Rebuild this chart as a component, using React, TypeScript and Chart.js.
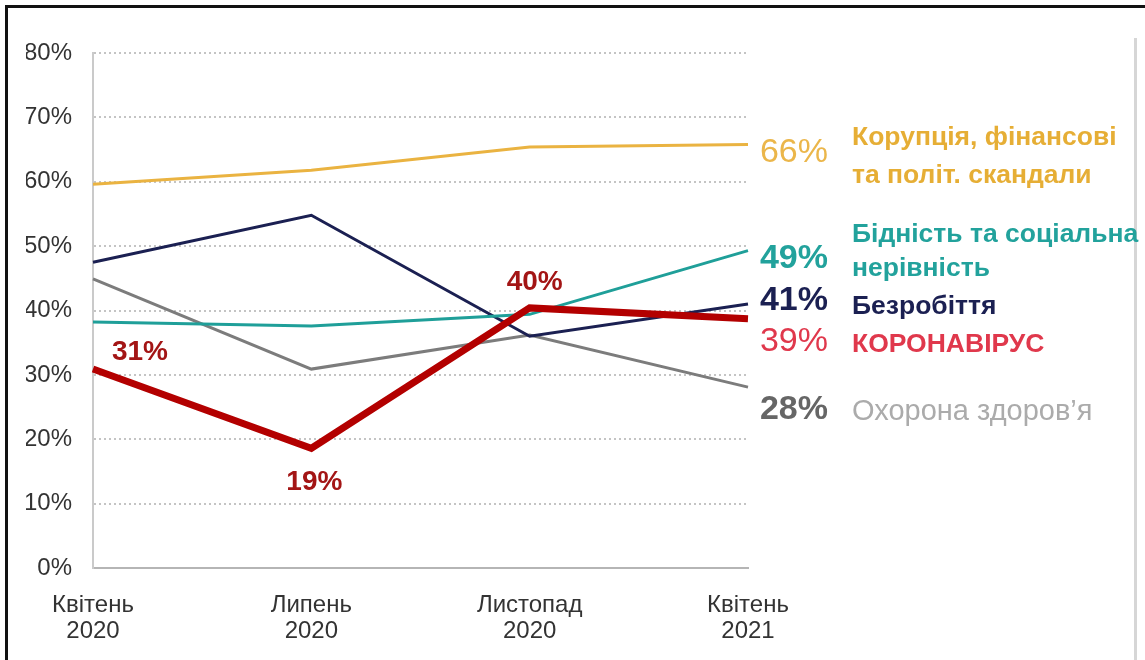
import React, { useEffect, useRef } from "react";
import { Chart, registerables } from "chart.js";

Chart.register(...registerables);

// ---- data ----
const categories: string[][] = [
  ["Квітень", "2020"],
  ["Липень", "2020"],
  ["Листопад", "2020"],
  ["Квітень", "2021"],
];
const coronavirus = [30.9, 18.6, 40.4, 38.7];
const corruption = [59.6, 61.8, 65.4, 65.8];
const poverty = [38.2, 37.6, 39.4, 49.3];
const unemployment = [47.5, 54.8, 36.0, 41.0];
const health = [44.9, 30.9, 36.2, 28.1];

const yMin = 0;
const yMax = 80;
const yStep = 10;

const nameCoronavirus = ["КОРОНАВІРУС"];
const nameCorruption = ["Корупція, фінансові", "та політ. скандали"];
const namePoverty = ["Бідність та соціальна", "нерівність"];
const nameUnemployment = ["Безробіття"];
const nameHealth = ["Охорона здоров’я"];

// which points of the coronavirus series carry a value label
const coronavirusLabelled = [0, 1, 2];

// ---- styles ----
const FONT = "'Liberation Sans', Arial, Helvetica, sans-serif";

type Style = {
  line: string;
  width: number;
  endColor: string;
  endWeight: string;
  endDy: number;
  nameColor: string;
  nameWeight: string;
  nameSize: number;
  nameDy: number[];
};

const styles: Style[] = [
  // coronavirus
  { line: "#B30000", width: 7, endColor: "#E0384C", endWeight: "normal", endDy: 23, nameColor: "#E0384C", nameWeight: "bold", nameSize: 26.5, nameDy: [26] },
  // corruption
  { line: "#EAB341", width: 3, endColor: "#EBB64A", endWeight: "normal", endDy: 8, nameColor: "#E6AE35", nameWeight: "bold", nameSize: 26.5, nameDy: [-7, 31] },
  // poverty
  { line: "#1F9F99", width: 3, endColor: "#22A29C", endWeight: "bold", endDy: 8, nameColor: "#22A29C", nameWeight: "bold", nameSize: 26.5, nameDy: [-16, 18] },
  // unemployment
  { line: "#1B2052", width: 3, endColor: "#1B2052", endWeight: "bold", endDy: -3, nameColor: "#1B2052", nameWeight: "bold", nameSize: 26.5, nameDy: [3] },
  // health
  { line: "#7C7C7C", width: 3, endColor: "#666666", endWeight: "bold", endDy: 23, nameColor: "#ABABAB", nameWeight: "normal", nameSize: 29, nameDy: [25] },
];

const seriesData = [coronavirus, corruption, poverty, unemployment, health];
const seriesNames = [nameCoronavirus, nameCorruption, namePoverty, nameUnemployment, nameHealth];

const pointLabelOffsets = [
  [47, -17],
  [3, 34],
  [5, -26],
];

const overlayPlugin = {
  id: "overlay",
  beforeDraw(chart: any) {
    const ctx: CanvasRenderingContext2D = chart.ctx;
    const w = chart.width;
    const h = chart.height;
    ctx.save();
    // outer frame
    ctx.fillStyle = "#111111";
    ctx.fillRect(5, 5, w - 5, 3);
    ctx.fillRect(5, 5, 3, h - 5);
    ctx.fillStyle = "#D6D6D6";
    ctx.fillRect(1134, 38, 3, h - 38);
    ctx.restore();
  },
  afterDatasetsDraw(chart: any) {
    const ctx: CanvasRenderingContext2D = chart.ctx;
    const area = chart.chartArea;
    ctx.save();
    // value labels on the coronavirus line
    const covMeta = chart.getDatasetMeta(0);
    ctx.font = `bold 28px ${FONT}`;
    ctx.fillStyle = "#A31515";
    ctx.textAlign = "center";
    ctx.textBaseline = "middle";
    coronavirusLabelled.forEach((idx, k) => {
      const p = covMeta.data[idx];
      const v = coronavirus[idx];
      ctx.fillText(`${Math.round(v)}%`, p.x + pointLabelOffsets[k][0], p.y + pointLabelOffsets[k][1]);
    });
    // end labels + names
    seriesData.forEach((data, s) => {
      const meta = chart.getDatasetMeta(s);
      const last = meta.data[meta.data.length - 1];
      const st = styles[s];
      ctx.font = `${st.endWeight} 34px ${FONT}`;
      ctx.fillStyle = st.endColor;
      ctx.textAlign = "right";
      ctx.textBaseline = "middle";
      ctx.fillText(`${Math.round(data[data.length - 1])}%`, area.right + 80, last.y + st.endDy);
      ctx.font = `${st.nameWeight} ${st.nameSize}px ${FONT}`;
      ctx.fillStyle = st.nameColor;
      ctx.textAlign = "left";
      seriesNames[s].forEach((line, li) => {
        ctx.fillText(line, area.right + 104, last.y + st.nameDy[li]);
      });
    });
    ctx.restore();
  },
};

export default function App() {
  const ref = useRef<HTMLCanvasElement | null>(null);

  useEffect(() => {
    if (!ref.current) return;
    Chart.defaults.font.family = FONT;
    const chart = new Chart(ref.current, {
      type: "line",
      data: {
        labels: categories,
        datasets: seriesData.map((d, i) => ({
          label: seriesNames[i].join(" "),
          data: d,
          borderColor: styles[i].line,
          backgroundColor: styles[i].line,
          borderWidth: styles[i].width,
          pointRadius: 0,
          tension: 0,
          fill: false,
          borderJoinStyle: "miter" as const,
        })),
      },
      options: {
        responsive: false,
        animation: false,
        layout: { padding: { left: 26, right: 397, top: 53, bottom: 17 } },
        plugins: {
          legend: { display: false },
          tooltip: { enabled: false },
        },
        scales: {
          x: {
            offset: false,
            grid: { display: false },
            border: { display: true, color: "#B5B5B5", width: 2 },
            ticks: {
              color: "#333333",
              font: { size: 24, lineHeight: 1.1 },
              padding: 16,
              maxRotation: 0,
              autoSkip: false,
            },
            afterFit: (scale: any) => {
              scale.height = 75;
            },
          },
          y: {
            min: yMin,
            max: yMax,
            grid: {
              drawTicks: false,
              color: (c: any) => (c.tick && c.tick.value === 0 ? "rgba(0,0,0,0)" : "#C4C4C4"),
              lineWidth: 2,
            },
            border: { display: true, color: "#CACACA", width: 2, dash: [2, 3] },
            ticks: {
              stepSize: yStep,
              color: "#333333",
              font: { size: 24 },
              padding: 21,
              callback: (v: any) => `${v}%`,
            },
            afterFit: (scale: any) => {
              scale.width = 67;
            },
          },
        },
      },
      plugins: [overlayPlugin],
    });
    return () => chart.destroy();
  }, []);

  return (
    <div style={{ position: "absolute", left: 0, top: 0, width: 1145, height: 660, background: "#fff" }}>
      <canvas ref={ref} width={1145} height={660} />
    </div>
  );
}
